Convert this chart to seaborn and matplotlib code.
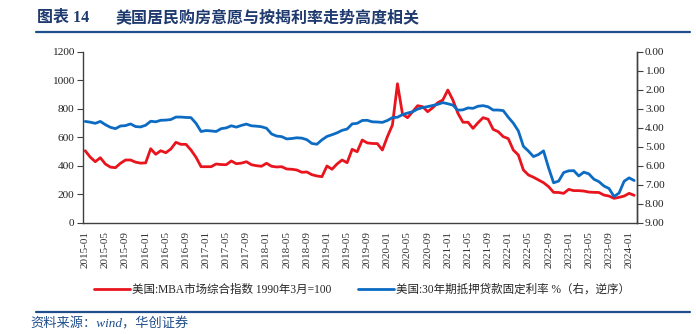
import numpy as np
import pandas as pd
import matplotlib
matplotlib.use("Agg")
import matplotlib.pyplot as plt
from matplotlib.lines import Line2D
import seaborn as sns

months = pd.date_range("2015-01-01", periods=110, freq="MS").strftime("%Y-%m").tolist()

mba_index = [
    505, 460, 428, 456, 412, 390, 386, 417, 440, 440, 425, 418,
    420, 519, 480, 505, 491, 517, 564, 550, 550, 510, 459, 393,
    393, 393, 412, 408, 407, 433, 414, 418, 428, 407, 400, 396,
    417, 396, 391, 393, 377, 375, 370, 354, 356, 337, 328, 323,
    398, 375, 412, 440, 421, 515, 498, 580, 560, 556, 555, 510,
    604, 686, 975, 761, 737, 779, 821, 814, 779, 807, 842, 861,
    931, 861, 768, 705, 705, 662, 702, 737, 726, 655, 639, 604,
    590, 510, 475, 370, 335, 319, 300, 281, 253, 213, 212, 206,
    234, 225, 225, 222, 215, 213, 212, 194, 187, 171, 178, 187,
    206, 192,
]

mortgage_30y = [
    3.67, 3.71, 3.77, 3.67, 3.84, 3.98, 4.05, 3.91, 3.89, 3.80, 3.94, 3.96,
    3.87, 3.66, 3.69, 3.61, 3.60, 3.57, 3.44, 3.44, 3.46, 3.47, 3.77, 4.20,
    4.15, 4.17, 4.20, 4.05, 4.01, 3.90, 3.97, 3.88, 3.81, 3.90, 3.92, 3.95,
    4.03, 4.33, 4.44, 4.47, 4.59, 4.57, 4.53, 4.55, 4.63, 4.83, 4.87, 4.64,
    4.46, 4.37, 4.27, 4.14, 4.07, 3.80, 3.77, 3.62, 3.61, 3.69, 3.70, 3.72,
    3.62, 3.47, 3.45, 3.31, 3.23, 3.16, 3.02, 2.94, 2.89, 2.83, 2.77, 2.68,
    2.74, 2.81, 3.08, 3.06, 2.96, 2.98, 2.87, 2.84, 2.90, 3.07, 3.07, 3.10,
    3.45, 3.76, 4.17, 4.98, 5.23, 5.52, 5.41, 5.22, 6.11, 6.90, 6.81, 6.36,
    6.27, 6.26, 6.54, 6.34, 6.43, 6.71, 6.84, 7.07, 7.20, 7.62, 7.44, 6.82,
    6.64, 6.78,
]

left_ticks = [0, 200, 400, 600, 800, 1000, 1200]
right_ticks = [0, 1, 2, 3, 4, 5, 6, 7, 8, 9]

title_num = "图表 14"
title_text = "美国居民购房意愿与按揭利率走势高度相关"
label_red = "美国:MBA市场综合指数 1990年3月=100"
label_blue = "美国:30年期抵押贷款固定利率 %（右，逆序）"
source_text = "资料来源：wind，华创证券"

sns.set_style("white")
plt.rcParams["font.family"] = ["Liberation Serif", "Noto Sans CJK SC", "DejaVu Sans"]

RED = "#E8141E"
BLUE = "#0C6BC2"
NAVY = "#1F3A6E"
SPINE = "#404040"

df = pd.DataFrame({"pos": np.arange(len(months)), "month": months,
                   "mba": mba_index, "rate": mortgage_30y})

fig = plt.figure(figsize=(6.96, 3.34), dpi=100)
ax = fig.add_axes([82.7 / 696, 1 - 222.7 / 334, (636.7 - 82.7) / 696, (222.7 - 51.7) / 334])
ax2 = ax.twinx()

sns.lineplot(data=df, x="pos", y="mba", ax=ax, color=RED, linewidth=2.0, label=label_red, legend=False)
sns.lineplot(data=df, x="pos", y="rate", ax=ax2, color=BLUE, linewidth=2.0, label=label_blue, legend=False)

ax.set_xlim(-0.5, len(months) - 0.5)
ax.set_ylim(0, 1200)
ax.set_yticks(left_ticks)
ax.set_yticklabels([str(t) for t in left_ticks])
ax2.set_ylim(9, 0)
ax2.set_yticks(right_ticks)
ax2.set_yticklabels([f"{t:.2f}" for t in right_ticks])

xt = list(range(0, len(months), 4))
ax.set_xticks(xt)
ax.set_xticklabels([months[i] for i in xt], rotation=90, ha="center", va="top")

for a in (ax, ax2):
    a.set_xlabel("")
    a.set_ylabel("")
    a.spines["top"].set_visible(False)
    for s in ("left", "right", "bottom"):
        a.spines[s].set_color(SPINE)
        a.spines[s].set_linewidth(1.0)
    a.tick_params(axis="both", direction="out", length=4, width=0.8, color=SPINE,
                  labelsize=8.2, labelcolor="#222222", pad=2)
    a.grid(False)
ax.tick_params(axis="x", labelsize=8, labelcolor="#333333")
ax2.spines["left"].set_visible(False)
ax2.spines["bottom"].set_visible(False)

h1, l1 = ax.get_legend_handles_labels()
h2, l2 = ax2.get_legend_handles_labels()
fig.legend(h1 + h2, l1 + l2, loc="center", bbox_to_anchor=(362 / 696, 1 - 290 / 334),
           ncol=2, frameon=False, prop={"family": ["Liberation Serif", "Noto Sans CJK SC"], "size": 8.3},
           handlelength=3.1, handletextpad=0.2, columnspacing=2.3)

fig.text(37 / 696, 1 - 18 / 334, title_num, ha="left", va="center", fontsize=11.5,
         fontweight="bold", color=NAVY, family=["Liberation Serif", "Noto Sans CJK SC"])
fig.text(115 / 696, 1 - 18 / 334, title_text, ha="left", va="center", fontsize=11.5,
         fontweight="bold", color=NAVY, family=["Liberation Serif", "Noto Sans CJK SC"])
fig.add_artist(Line2D([36 / 696, 690 / 696], [1 - 32 / 334] * 2, color="#1F4E8C", lw=1.6))
fig.add_artist(Line2D([36 / 696, 690 / 696], [1 - 312 / 334] * 2, color="#1F4E8C", lw=1.6))
fig.text(30 / 696, 1 - 324 / 334, source_text, ha="left", va="center", fontsize=9.5,
         style="italic", color="#1F4E8C", family=["Liberation Serif", "Noto Sans CJK SC"])

fig.savefig("out.png", dpi=100)
